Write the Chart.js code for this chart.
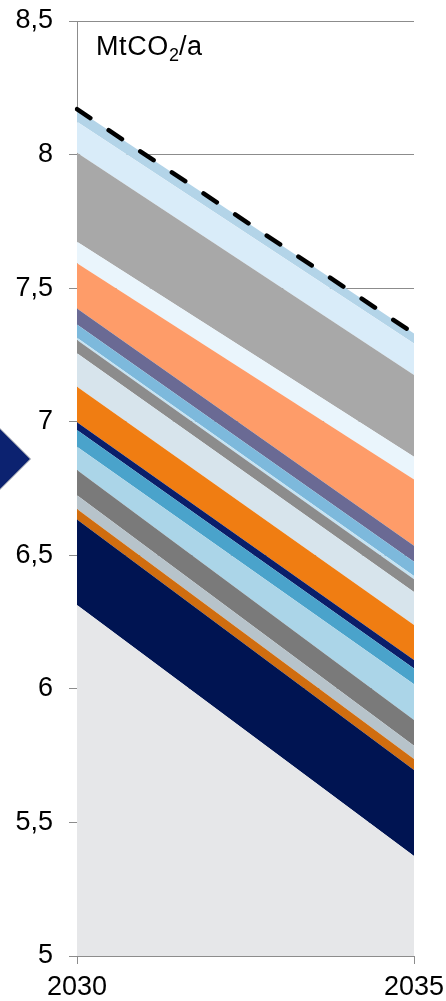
<!DOCTYPE html>
<html>
<head>
<meta charset="utf-8">
<script src="https://cdn.jsdelivr.net/npm/chart.js@4/dist/chart.umd.min.js"></script>
<style>
  html, body { margin: 0; padding: 0; background: #fff; }
  #wrap { position: relative; width: 446px; height: 1001px; overflow: hidden; }
  canvas { position: absolute; left: 0; top: 0; }
  #unit {
    position: absolute; left: 96px; top: 33px;
    font-family: "Liberation Sans", Arial, sans-serif; font-size: 27px; line-height: 27px; color: #000;
    letter-spacing: 0.6px;
  }
  #unit sub { font-size: 18px; vertical-align: -6px; line-height: 0; letter-spacing: 0; }
  #arrow {
    position: absolute; left: -22px; top: 437px; width: 44px; height: 44px;
    background: #0c2270; border: 1px solid #a3a7b3; box-sizing: border-box;
    transform: rotate(45deg);
  }
</style>
</head>
<body>
<div id="wrap">
  <canvas id="c" width="446" height="1001"></canvas>
  <div id="arrow"></div>
  <div id="unit">MtCO<sub>2</sub>/a</div>
</div>
<script>
// Years on the x axis
const years = ['2030', '2035'];

// Stacked emission layers, bottom to top (MtCO2/a)
const layerBase     = [6.314, 5.374];
const layerNavy     = [0.320, 0.322];
const layerRust     = [0.039, 0.041];
const layerSilver   = [0.052, 0.050];
const layerSlate    = [0.094, 0.096];
const layerSkyLight = [0.087, 0.134];
const layerCyan     = [0.063, 0.059];
const layerIndigo   = [0.029, 0.032];
const layerOrange   = [0.133, 0.131];
const layerMist     = [0.125, 0.124];
const layerSteel    = [0.050, 0.047];
const layerIce      = [0.008, 0.012];
const layerAzure    = [0.050, 0.054];
const layerLavender = [0.060, 0.060];
const layerPeach    = [0.169, 0.248];
const layerFrost    = [0.081, 0.085];
const layerStone    = [0.333, 0.306];
const layerPale     = [0.116, 0.118];
const layerSky      = [0.047, 0.037];

// Total path (dashed)
const totalPath = [8.17, 7.33];

// Value axis ticks
const yTicks = [5, 5.5, 6, 6.5, 7, 7.5, 8, 8.5];

const layers = [
  [layerBase,     '#e6e7e9'],
  [layerNavy,     '#001452'],
  [layerRust,     '#d06d0f'],
  [layerSilver,   '#b7c3ca'],
  [layerSlate,    '#7a7a7a'],
  [layerSkyLight, '#abd5e8'],
  [layerCyan,     '#4aa3cb'],
  [layerIndigo,   '#0a1e6a'],
  [layerOrange,   '#f07d12'],
  [layerMist,     '#d7e4ec'],
  [layerSteel,    '#8c8c8c'],
  [layerIce,      '#c5e3f3'],
  [layerAzure,    '#7db9dc'],
  [layerLavender, '#6a6a94'],
  [layerPeach,    '#fe9c69'],
  [layerFrost,    '#eaf5fc'],
  [layerStone,    '#a8a8a8'],
  [layerPale,     '#d9ecf9'],
  [layerSky,      '#b3d4e8']
];

const datasets = layers.map(([values, color], i) => ({
  data: values,
  backgroundColor: color,
  borderColor: color,
  borderWidth: 0,
  pointRadius: 0,
  fill: i === 0 ? 'origin' : '-1',
  stack: 'layers',
  tension: 0
}));

datasets.push({
  data: totalPath,
  borderColor: '#000',
  borderWidth: 4.5,
  borderDash: [16, 22],
  borderCapStyle: 'round',
  pointRadius: 0,
  fill: false,
  stack: 'total',
  order: -1,
  tension: 0
});

const font = { family: '"Liberation Sans", Arial, sans-serif', size: 27 };
const axisGray = '#8c8c8c';

new Chart(document.getElementById('c'), {
  type: 'line',
  data: { labels: years, datasets },
  options: {
    responsive: false,
    animation: false,
    events: [],
    layout: { padding: { top: 21, right: 32, left: 0, bottom: 0 } },
    plugins: { legend: { display: false }, tooltip: { enabled: false } },
    scales: {
      x: {
        type: 'category',
        offset: false,
        grid: { display: true, drawOnChartArea: false, tickLength: 8, color: axisGray, offset: false },
        border: { color: axisGray, width: 1 },
        ticks: { font, color: '#000', padding: 7, maxRotation: 0 },
        afterFit(s) { s.height = 45; s.paddingLeft = 0; s.paddingRight = 0; }
      },
      y: {
        stacked: true,
        min: yTicks[0],
        max: yTicks[yTicks.length - 1],
        afterBuildTicks(s) { s.ticks = yTicks.map(v => ({ value: v })); },
        ticks: {
          font, color: '#000', padding: 16,
          callback: v => String(v).replace('.', ',')
        },
        grid: { color: axisGray, tickLength: 8 },
        border: { color: axisGray, width: 1 },
        afterFit(s) { s.width = 77; s.paddingTop = 0; s.paddingBottom = 0; }
      }
    }
  }
});
</script>
</body>
</html>
